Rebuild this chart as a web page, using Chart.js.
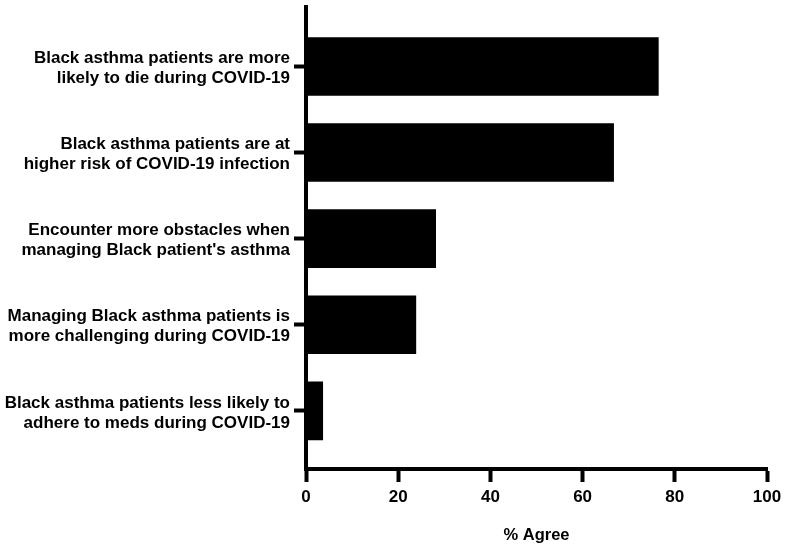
<!DOCTYPE html>
<html>
<head>
<meta charset="utf-8">
<script src="https://cdn.jsdelivr.net/npm/chart.js@4"></script>
<style>
  html, body { margin: 0; padding: 0; background: #ffffff; }
  #wrap { width: 789px; height: 550px; }
</style>
</head>
<body>
<div id="wrap"><canvas id="c" width="789" height="550"></canvas></div>
<script>
// ---- data ----
const categories = [
  ["Black asthma patients are more", "likely to die during COVID-19"],
  ["Black asthma patients are at", "higher risk of COVID-19 infection"],
  ["Encounter more obstacles when", "managing Black patient's asthma"],
  ["Managing Black asthma patients is", "more challenging during COVID-19"],
  ["Black asthma patients less likely to", "adhere to meds during COVID-19"]
];
const agreePercent = [76.5, 66.8, 28.2, 23.9, 3.7];
const xTicks = [0, 20, 40, 60, 80, 100];
const xTitle = "% Agree";

// ---- chart ----
const FONT = "'Liberation Sans', Arial, Helvetica, sans-serif";
const points = categories.map((c, i) => ({ x: agreePercent[i], y: i }));

new Chart(document.getElementById('c'), {
  type: 'bar',
  data: {
    datasets: [{
      data: points,
      backgroundColor: '#000000',
      borderWidth: 0,
      categoryPercentage: 1.0,
      barPercentage: 0.68
    }]
  },
  options: {
    indexAxis: 'y',
    responsive: false,
    animation: false,
    layout: { padding: { top: 7, right: 22, bottom: 0, left: 0 } },
    plugins: { legend: { display: false }, tooltip: { enabled: false } },
    scales: {
      x: {
        type: 'linear',
        position: 'bottom',
        min: 0,
        max: 100,
        offset: false,
        afterBuildTicks: (scale) => { scale.ticks = xTicks.map(v => ({ value: v })); },
        afterFit: (scale) => { scale.height = 550 - 469; },
        grid: {
          offset: false,
          drawOnChartArea: false,
          drawTicks: true,
          tickLength: 13,
          tickWidth: 4,
          tickColor: '#000000'
        },
        border: { display: true, color: '#000000', width: 4 },
        ticks: {
          color: '#000000',
          padding: 5,
          font: { family: FONT, size: 17, weight: 'bold' },
          maxRotation: 0
        },
        title: {
          display: true,
          text: xTitle,
          color: '#000000',
          font: { family: FONT, size: 16.5, weight: 'bold' },
          padding: { top: 0, bottom: 5 }
        }
      },
      y: {
        type: 'linear',
        position: 'left',
        reverse: true,
        min: -0.69,
        max: 4.675,
        offset: false,
        afterBuildTicks: (scale) => { scale.ticks = categories.map((c, i) => ({ value: i })); },
        afterFit: (scale) => {
          scale.width = 306;
          scale.paddingTop = 0;
          scale.paddingBottom = 0;
        },
        grid: {
          offset: false,
          drawOnChartArea: false,
          drawTicks: true,
          tickLength: 12,
          tickWidth: 4,
          tickColor: '#000000'
        },
        border: { display: true, color: '#000000', width: 4 },
        ticks: {
          autoSkip: false,
          color: '#000000',
          padding: 4,
          labelOffset: 2,
          font: { family: FONT, size: 17, weight: 'bold', lineHeight: 1.18 },
          callback: (v) => categories[v]
        }
      }
    }
  }
});
</script>
</body>
</html>
